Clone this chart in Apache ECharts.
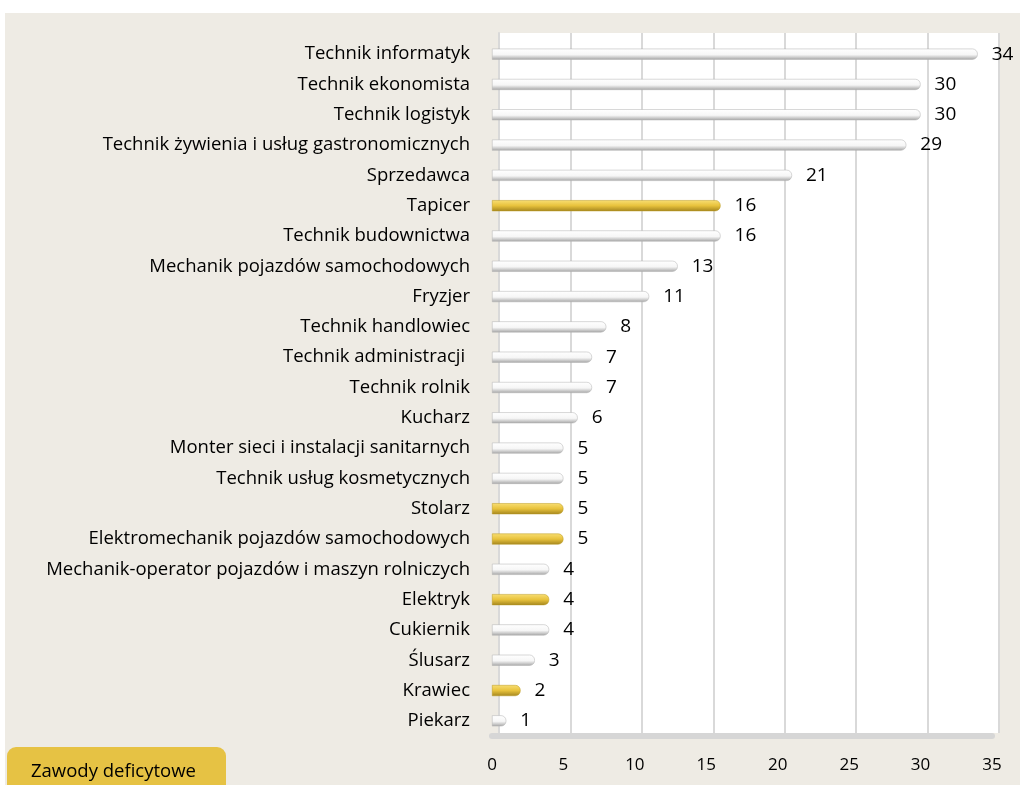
<!DOCTYPE html>
<html>
<head>
<meta charset="utf-8">
<script src="https://cdn.jsdelivr.net/npm/echarts@6/dist/echarts.min.js"></script>
<style>
  html, body { margin: 0; padding: 0; background: #fff; }
  #chart { width: 1020px; height: 785px; }
</style>
</head>
<body>
<div id="chart"></div>
<script>
// zawody - liczba wskazań
var categories = [
  'Technik informatyk',
  'Technik ekonomista',
  'Technik logistyk',
  'Technik żywienia i usług gastronomicznych',
  'Sprzedawca',
  'Tapicer',
  'Technik budownictwa',
  'Mechanik pojazdów samochodowych',
  'Fryzjer',
  'Technik handlowiec',
  'Technik administracji ',
  'Technik rolnik',
  'Kucharz',
  'Monter sieci i instalacji sanitarnych',
  'Technik usług kosmetycznych',
  'Stolarz',
  'Elektromechanik pojazdów samochodowych',
  'Mechanik-operator pojazdów i maszyn rolniczych',
  'Elektryk',
  'Cukiernik',
  'Ślusarz',
  'Krawiec',
  'Piekarz'
];
var values = [34, 30, 30, 29, 21, 16, 16, 13, 11, 8, 7, 7, 6, 5, 5, 5, 5, 4, 4, 4, 3, 2, 1];
// zawody deficytowe (złote słupki)
var deficitJobs = ['Tapicer', 'Stolarz', 'Elektromechanik pojazdów samochodowych', 'Elektryk', 'Krawiec'];
var xTicks = [0, 5, 10, 15, 20, 25, 30, 35];

var whiteBar = new echarts.graphic.LinearGradient(0, 0, 0, 1, [
  { offset: 0, color: '#ffffff' },
  { offset: 0.55, color: '#f6f6f6' },
  { offset: 1, color: '#a5a5a5' }
]);
var goldBar = new echarts.graphic.LinearGradient(0, 0, 0, 1, [
  { offset: 0, color: '#f8de73' },
  { offset: 0.5, color: '#e8c23c' },
  { offset: 1, color: '#a4861f' }
]);

var chart = echarts.init(document.getElementById('chart'));
var option = {
  backgroundColor: '#ffffff',
  animation: false,
  textStyle: { fontFamily: 'Open Sans' },
  graphic: [
    {
      type: 'rect', z: -10, silent: true,
      shape: { x: 5, y: 13, width: 1015, height: 772 },
      style: { fill: '#eeebe4' }
    },
    {
      type: 'rect', z: 10,
      shape: { x: 7, y: 747, width: 219, height: 50, r: [9, 9, 0, 0] },
      style: { fill: '#e6c244' }
    },
    {
      type: 'text', z: 11, left: 31, top: 762,
      style: { text: 'Zawody deficytowe', fill: '#000', font: '18.5px "Open Sans"' }
    }
  ],
  grid: [
    // tylna ściana (przesunięta - efekt 3D)
    { left: 499, width: 500, top: 33, height: 700, show: true, backgroundColor: '#ffffff', borderWidth: 0 },
    // słupki
    { left: 492, width: 500, top: 39, height: 697 }
  ],
  xAxis: [
    {
      gridIndex: 0, type: 'value', min: 0, max: 35, interval: 5,
      axisLine: { show: false }, axisTick: { show: false }, axisLabel: { show: false },
      splitLine: { show: true, lineStyle: { color: '#d9d9d9', width: 2 } }
    },
    {
      gridIndex: 1, type: 'value', min: 0, max: 35, interval: 5,
      axisLine: { show: true, onZero: false, lineStyle: { color: '#d6d6d6', width: 6 } },
      axisTick: { show: false },
      splitLine: { show: false },
      axisLabel: {
        color: '#000', fontSize: 17, margin: 21,
        formatter: function (v) { return xTicks.indexOf(v) >= 0 ? String(v) : ''; }
      }
    }
  ],
  yAxis: [
    {
      gridIndex: 0, type: 'category', data: categories, inverse: true,
      axisLine: { show: true, lineStyle: { color: '#d9d9d9', width: 2 } },
      axisTick: { show: false }, axisLabel: { show: false }, splitLine: { show: false }
    },
    {
      gridIndex: 1, type: 'category', data: categories, inverse: true,
      axisLine: { show: false }, axisTick: { show: false },
      axisLabel: { color: '#000', fontSize: 18.5, margin: 22 }
    }
  ],
  series: [{
    type: 'bar',
    xAxisIndex: 1,
    yAxisIndex: 1,
    barWidth: 11,
    data: values.map(function (v, i) {
      var gold = deficitJobs.indexOf(categories[i]) >= 0;
      return {
        value: v,
        itemStyle: {
          color: gold ? goldBar : whiteBar,
          borderColor: gold ? '#b8981f' : '#b0b0b0',
          borderWidth: 0.5
        }
      };
    }),
    itemStyle: { borderRadius: [0, 5, 5, 0] },
    label: {
      show: true, position: 'right', distance: 14,
      color: '#000', fontSize: 19, fontFamily: 'Open Sans'
    }
  }]
};
chart.setOption(option);
</script>
</body>
</html>
